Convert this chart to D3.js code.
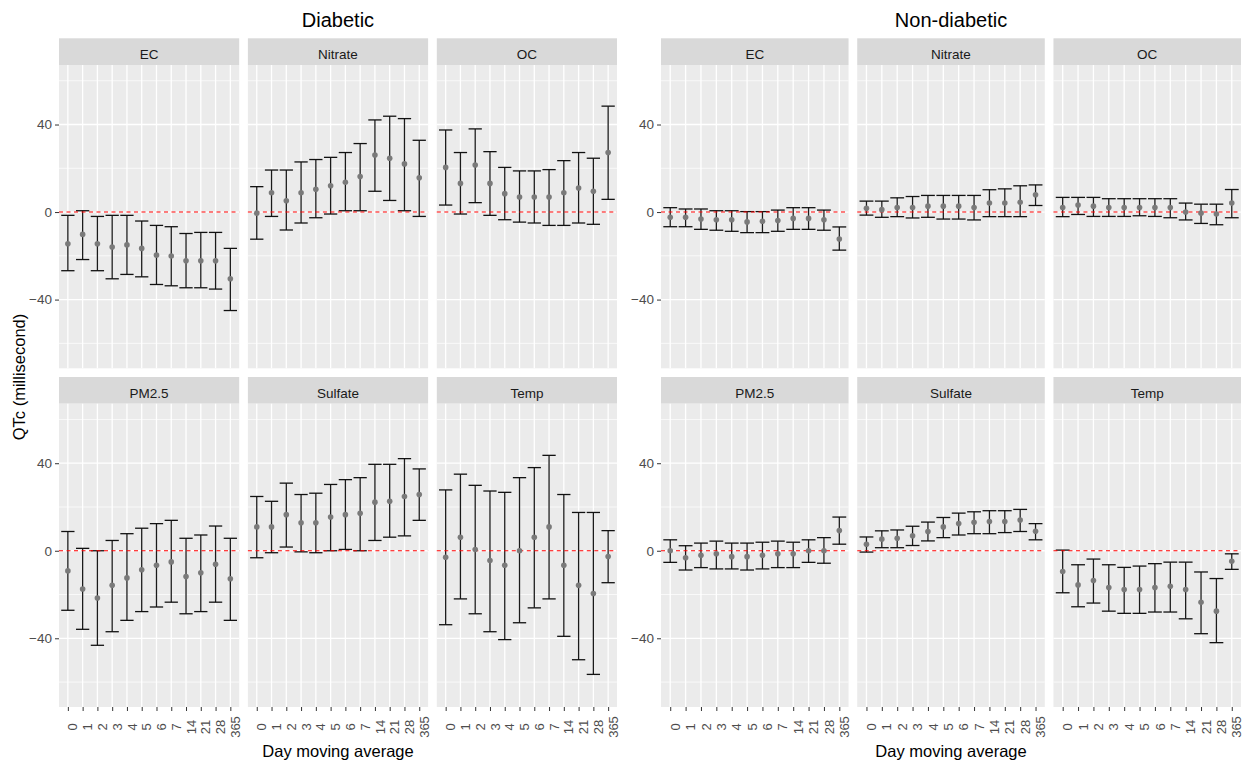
<!DOCTYPE html>
<html>
<head>
<meta charset="utf-8">
<script src="https://cdn.jsdelivr.net/npm/d3@7"></script>
<style>
  body { margin: 0; background: #fff; }
  text { font-family: "Liberation Sans", Arial, sans-serif; }
</style>
</head>
<body>
<svg id="chart" width="1247" height="763"></svg>
<script>
// categories
var days = ["0", "1", "2", "3", "4", "5", "6", "7", "14", "21", "28", "365"];
var pollutants = ["EC", "Nitrate", "OC", "PM2.5", "Sulfate", "Temp"];
var majorTicks = [-40, 0, 40];
var minorTicks = [-60, -20, 20, 60];

// Diabetic: estimate, lower and upper CI
var dEC = [-14.5, -10.2, -14.5, -16.0, -15.0, -16.6, -19.7, -20.1, -22.3, -22.3, -22.3, -30.5];
var dECLo = [-26.8, -21.7, -26.8, -30.5, -28.5, -29.6, -33.1, -33.7, -34.6, -34.6, -35.2, -45.0];
var dECHi = [-1.5, 0.6, -2.0, -1.5, -1.5, -4.1, -6.1, -6.7, -9.8, -9.3, -9.3, -16.6];

var dNitrate = [-0.5, 8.8, 5.2, 8.8, 10.4, 12.0, 13.6, 16.2, 26.1, 24.6, 22.0, 15.7];
var dNitrateLo = [-12.4, -2.0, -8.2, -5.0, -2.6, -0.9, 0.6, 0.6, 9.5, 5.3, 0.6, -2.0];
var dNitrateHi = [11.6, 19.2, 19.2, 22.9, 24.0, 25.0, 27.2, 31.3, 42.1, 43.8, 42.7, 32.8];

var dOC = [20.4, 13.1, 21.5, 13.1, 8.4, 6.9, 6.9, 6.9, 8.8, 11.0, 9.5, 27.2];
var dOCLo = [3.2, -0.9, 4.3, -1.5, -3.5, -4.6, -5.0, -6.1, -6.1, -5.0, -5.6, 5.8];
var dOCHi = [37.5, 27.2, 38.0, 27.6, 20.4, 18.8, 18.8, 19.4, 23.5, 27.2, 24.6, 48.4];

var dPM = [-9.2, -17.5, -21.6, -15.8, -12.4, -8.7, -6.6, -5.1, -11.8, -10.1, -6.2, -12.8];
var dPMLo = [-27.2, -35.9, -43.2, -37.0, -31.8, -27.8, -25.7, -23.5, -28.8, -27.8, -23.5, -31.8];
var dPMHi = [8.8, 1.1, 0.0, 4.7, 7.8, 10.3, 12.4, 13.9, 5.7, 7.2, 11.3, 5.7];

var dSulfate = [10.9, 10.9, 16.5, 12.8, 12.8, 15.4, 16.5, 17.1, 22.2, 22.6, 24.8, 25.7];
var dSulfateLo = [-3.2, -0.9, 1.7, -0.5, -0.9, 0.0, 0.6, 0.0, 4.7, 6.2, 6.8, 13.9];
var dSulfateHi = [24.8, 22.6, 30.9, 25.7, 26.3, 30.3, 32.5, 33.4, 39.5, 39.5, 42.1, 37.4];

var dTemp = [-3.0, 6.2, 0.6, -4.5, -6.6, 0.0, 6.2, 10.9, -6.6, -15.8, -19.5, -2.6];
var dTempLo = [-33.8, -22.0, -28.8, -37.0, -40.6, -32.9, -26.1, -22.0, -39.1, -49.8, -56.5, -14.6];
var dTempHi = [27.8, 35.0, 29.9, 27.3, 26.7, 33.4, 38.0, 43.6, 25.7, 17.5, 17.5, 9.2];

// Non-diabetic
var nEC = [-2.4, -2.4, -3.2, -3.5, -3.5, -4.5, -4.2, -3.9, -2.9, -2.9, -3.5, -12.3];
var nECLo = [-6.7, -6.7, -7.9, -8.3, -8.8, -9.4, -9.4, -8.8, -7.9, -7.9, -8.3, -17.4];
var nECHi = [2.0, 1.4, 1.4, 0.6, 0.6, 0.2, 0.2, 0.9, 2.0, 2.0, 0.9, -6.8];

var nNitrate = [1.7, 1.1, 2.1, 2.1, 2.7, 2.7, 2.7, 2.1, 4.1, 4.1, 4.5, 7.9];
var nNitrateLo = [-1.4, -2.4, -2.1, -2.7, -2.4, -3.2, -3.2, -3.6, -2.1, -2.1, -2.1, 3.0];
var nNitrateHi = [5.0, 5.0, 6.5, 7.1, 7.6, 7.6, 7.6, 7.6, 10.2, 10.6, 12.0, 12.4];

var nOC = [2.1, 3.2, 2.7, 2.1, 2.1, 2.1, 2.1, 2.1, 0.0, -0.5, -0.9, 4.1];
var nOCLo = [-2.1, -1.1, -2.0, -2.0, -2.0, -1.7, -2.0, -2.6, -3.6, -5.2, -5.8, -2.6];
var nOCHi = [6.7, 6.7, 6.7, 6.1, 6.1, 6.1, 6.1, 6.1, 4.1, 3.6, 3.6, 10.3];

var nPM = [0.0, -3.2, -2.1, -1.4, -2.7, -2.7, -2.1, -1.4, -1.4, 0.0, 0.0, 9.2];
var nPMLo = [-5.3, -8.8, -7.7, -8.3, -8.3, -8.8, -8.3, -7.7, -7.7, -5.3, -5.7, 3.0];
var nPMHi = [5.0, 2.3, 3.5, 4.4, 3.5, 3.5, 3.9, 4.4, 3.9, 5.0, 6.0, 15.4];

var nSulfate = [3.0, 5.3, 5.7, 6.8, 8.8, 10.9, 12.4, 13.0, 13.4, 13.4, 14.0, 8.9];
var nSulfateLo = [-0.6, 1.4, 1.4, 2.4, 4.5, 6.0, 7.2, 7.8, 7.8, 8.3, 8.8, 5.0];
var nSulfateHi = [6.3, 9.1, 9.5, 11.2, 13.1, 15.2, 17.2, 17.8, 18.3, 18.3, 18.9, 12.4];

var nTemp = [-9.5, -15.6, -13.6, -16.8, -17.7, -17.7, -16.8, -16.2, -17.7, -23.5, -27.6, -4.8];
var nTempLo = [-19.2, -25.6, -23.9, -27.6, -28.6, -28.6, -28.0, -28.0, -31.1, -37.9, -42.0, -8.5];
var nTempHi = [0.3, -6.4, -3.8, -6.4, -7.6, -7.0, -5.9, -5.2, -5.2, -9.7, -12.7, -1.4];

// group the arrays per facet
function facet(est, lo, hi) {
  return days.map(function (d, i) { return { day: d, est: est[i], lo: lo[i], hi: hi[i] }; });
}
var diabetic = [facet(dEC, dECLo, dECHi), facet(dNitrate, dNitrateLo, dNitrateHi), facet(dOC, dOCLo, dOCHi),
                facet(dPM, dPMLo, dPMHi), facet(dSulfate, dSulfateLo, dSulfateHi), facet(dTemp, dTempLo, dTempHi)];
var nondiabetic = [facet(nEC, nECLo, nECHi), facet(nNitrate, nNitrateLo, nNitrateHi), facet(nOC, nOCLo, nOCHi),
                   facet(nPM, nPMLo, nPMHi), facet(nSulfate, nSulfateLo, nSulfateHi), facet(nTemp, nTempLo, nTempHi)];

// layout
var svg = d3.select("#chart");
var stripH = 26.7, panelH = 303.3, rowTop = [38.3, 377], gap = 8.7;
var tickFont = "13px", tickCol = "#4d4d4d";

var plots = [
  { title: "Diabetic", left: 59, right: 617, data: diabetic, yTitle: true },
  { title: "Non-diabetic", left: 661, right: 1241, data: nondiabetic, yTitle: false }
];

var y = d3.scaleLinear().domain([-71.4, 67.2]).range([panelH, 0]);

plots.forEach(function (p) {
  var panelW = (p.right - p.left - 2 * gap) / 3;
  var x = d3.scalePoint().domain(days).range([0, panelW]).padding(0.6);
  var step = x.step();

  svg.append("text")
    .attr("x", (p.left + p.right) / 2)
    .attr("y", 26.5)
    .attr("text-anchor", "middle")
    .attr("font-size", "20px")
    .attr("fill", "#000")
    .text(p.title);

  svg.append("text")
    .attr("x", (p.left + p.right) / 2)
    .attr("y", 757)
    .attr("text-anchor", "middle")
    .attr("font-size", "16.5px")
    .attr("fill", "#000")
    .text("Day moving average");

  if (p.yTitle) {
    svg.append("text")
      .attr("transform", "translate(25,377) rotate(-90)")
      .attr("text-anchor", "middle")
      .attr("font-size", "16.5px")
      .attr("fill", "#000")
      .text("QTc (millisecond)");
  }

  p.data.forEach(function (rows, k) {
    var col = k % 3, row = Math.floor(k / 3);
    var px = p.left + col * (panelW + gap);
    var sy = rowTop[row];
    var py = sy + stripH;

    // strip
    svg.append("rect")
      .attr("x", px).attr("y", sy)
      .attr("width", panelW).attr("height", stripH)
      .attr("fill", "#d9d9d9");
    svg.append("text")
      .attr("x", px + panelW / 2)
      .attr("y", sy + 20.5)
      .attr("text-anchor", "middle")
      .attr("font-size", "13.5px")
      .attr("fill", "#1a1a1a")
      .text(pollutants[k]);

    var g = svg.append("g").attr("transform", "translate(" + px + "," + py + ")");

    g.append("rect")
      .attr("width", panelW).attr("height", panelH)
      .attr("fill", "#ebebeb");

    g.selectAll(".minor").data(minorTicks).enter().append("line")
      .attr("x1", 0).attr("x2", panelW)
      .attr("y1", function (d) { return y(d); })
      .attr("y2", function (d) { return y(d); })
      .attr("stroke", "#fff").attr("stroke-width", 0.7);

    g.selectAll(".major").data(majorTicks).enter().append("line")
      .attr("x1", 0).attr("x2", panelW)
      .attr("y1", function (d) { return y(d); })
      .attr("y2", function (d) { return y(d); })
      .attr("stroke", "#fff").attr("stroke-width", 1.3);

    g.selectAll(".vgrid").data(days).enter().append("line")
      .attr("x1", function (d) { return x(d); })
      .attr("x2", function (d) { return x(d); })
      .attr("y1", 0).attr("y2", panelH)
      .attr("stroke", "#fff").attr("stroke-width", 1.3);

    // error bars
    var bars = g.selectAll(".bar").data(rows).enter().append("g");
    bars.append("line")
      .attr("x1", function (d) { return x(d.day); })
      .attr("x2", function (d) { return x(d.day); })
      .attr("y1", function (d) { return y(d.lo); })
      .attr("y2", function (d) { return y(d.hi); })
      .attr("stroke", "#1a1a1a").attr("stroke-width", 1.3);
    ["lo", "hi"].forEach(function (key) {
      bars.append("line")
        .attr("x1", function (d) { return x(d.day) - step * 0.45; })
        .attr("x2", function (d) { return x(d.day) + step * 0.45; })
        .attr("y1", function (d) { return y(d[key]); })
        .attr("y2", function (d) { return y(d[key]); })
        .attr("stroke", "#111").attr("stroke-width", 1.3);
    });

    // reference line
    g.append("line")
      .attr("x1", 0).attr("x2", panelW)
      .attr("y1", y(0)).attr("y2", y(0))
      .attr("stroke", "#f00").attr("stroke-width", 1.1)
      .attr("stroke-dasharray", "4,3.5");

    g.selectAll(".pt").data(rows).enter().append("circle")
      .attr("cx", function (d) { return x(d.day); })
      .attr("cy", function (d) { return y(d.est); })
      .attr("r", 2.8)
      .attr("fill", "#7a7a7a");

    // y axis on the first column
    if (col === 0) {
      var ya = g.append("g").call(d3.axisLeft(y).tickValues(majorTicks).tickSize(4).tickPadding(3));
      ya.select(".domain").remove();
      ya.selectAll("line").attr("stroke", "#333");
      ya.selectAll("text").attr("fill", tickCol).attr("font-size", "13.5px")
        .attr("font-family", "Liberation Sans, Arial, sans-serif");
    }

    // x axis on the bottom row
    if (row === 1) {
      var xa = g.append("g").attr("transform", "translate(0," + panelH + ")")
        .call(d3.axisBottom(x).tickSize(4));
      xa.select(".domain").remove();
      xa.selectAll("line").attr("stroke", "#333");
      xa.selectAll("text")
        .attr("y", 0).attr("x", 0)
        .attr("dy", "0.7em")
        .attr("transform", "translate(0,20) rotate(-90)")
        .attr("text-anchor", "middle")
        .attr("fill", tickCol).attr("font-size", tickFont)
        .attr("font-family", "Liberation Sans, Arial, sans-serif");
    }
  });
});
</script>
</body>
</html>
